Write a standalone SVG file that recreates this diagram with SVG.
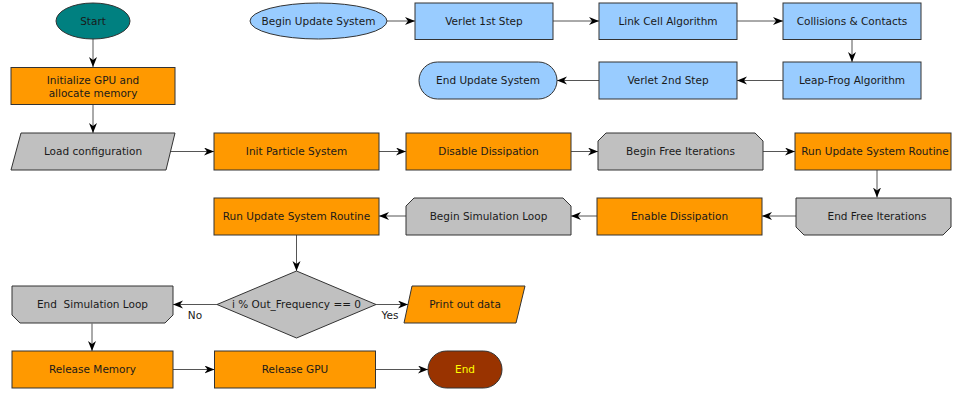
<svg xmlns="http://www.w3.org/2000/svg" width="953" height="394" viewBox="0 0 953 394">
<style>
  text { font-family: "DejaVu Sans", "Liberation Sans", sans-serif; font-size: 10.5px; fill: #1a1a1a; text-anchor: middle; }
  .shape { stroke: #333; stroke-width: 1; }
  .orange { fill: #ff9900; }
  .gray { fill: #c0c0c0; }
  .blue { fill: #99ccff; }
  .teal { fill: #008080; }
  .brown { fill: #993300; }
  .conn path { fill: none; stroke: #555; stroke-width: 1; marker-end: url(#arrow); }
  .lbl { font-size: 10.5px; }
</style>
<defs>
  <marker id="arrow" markerUnits="userSpaceOnUse" markerWidth="11" markerHeight="9" refX="10" refY="4" orient="auto">
    <path d="M0,0 L10,4 L0,8 L3,4 z" fill="#000"/>
  </marker>
</defs>
<rect width="953" height="394" fill="#fff"/>

<g class="conn" id="connectors">
  <path d="M93,39 V67"/>
  <path d="M93,104.5 V133"/>
  <path d="M171,151.5 H214"/>
  <path d="M379,151.5 H406"/>
  <path d="M571,151.5 H598"/>
  <path d="M763,151.5 H795"/>
  <path d="M877,170 V197.5"/>
  <path d="M796,216 H762"/>
  <path d="M597,216 H571"/>
  <path d="M406,216 H379"/>
  <path d="M296.5,235 V271"/>
  <path d="M217,304.5 H173"/>
  <path d="M376,304.5 H408"/>
  <path d="M92,323.5 V351"/>
  <path d="M173,369.5 H214.5"/>
  <path d="M376,369.5 H428"/>
  <path d="M387,21 H415"/>
  <path d="M553,21 H599"/>
  <path d="M737,21 H783"/>
  <path d="M852,39.5 V62"/>
  <path d="M783,80.5 H737"/>
  <path d="M599,80.5 H557"/>
  <text x="195" y="319">No</text>
  <text x="390" y="319">Yes</text>
</g>

<g id="start">
  <ellipse class="shape teal" cx="93" cy="21" rx="37" ry="18"/>
  <text x="93" y="24.8">Start</text>
</g>
<g id="init-gpu">
  <rect class="shape orange" x="11" y="67.5" width="164" height="37"/>
  <text x="93" y="83.8">Initialize GPU and</text>
  <text x="93" y="96.5">allocate memory</text>
</g>
<g id="load-config">
  <polygon class="shape gray" points="21,133 175,133 166,170 11,170"/>
  <text x="93" y="155.3">Load configuration</text>
</g>
<g id="init-particle">
  <rect class="shape orange" x="214" y="133" width="165" height="37"/>
  <text x="296.5" y="155.3">Init Particle System</text>
</g>
<g id="disable-dissipation">
  <rect class="shape orange" x="406" y="133" width="165" height="37"/>
  <text x="488.5" y="155.3">Disable Dissipation</text>
</g>
<g id="begin-free">
  <polygon class="shape gray" points="598,141 606,133 755,133 763,141 763,170 598,170"/>
  <text x="680.5" y="155.3">Begin Free Iterations</text>
</g>
<g id="run-update-1">
  <rect class="shape orange" x="795" y="133" width="156" height="37"/>
  <text x="875" y="155.3">Run Update System Routine</text>
</g>
<g id="end-free">
  <polygon class="shape gray" points="796,198 951,198 951,227 943,235 804,235 796,227"/>
  <text x="877" y="219.8">End Free Iterations</text>
</g>
<g id="enable-dissipation">
  <rect class="shape orange" x="597" y="198" width="165" height="37"/>
  <text x="679.5" y="219.8">Enable Dissipation</text>
</g>
<g id="begin-sim">
  <polygon class="shape gray" points="406,206 414,198 563,198 571,206 571,235 406,235"/>
  <text x="488.5" y="219.8">Begin Simulation Loop</text>
</g>
<g id="run-update-2">
  <rect class="shape orange" x="214" y="198" width="165" height="37"/>
  <text x="296.5" y="219.8">Run Update System Routine</text>
</g>
<g id="decision">
  <polygon class="shape gray" points="296.5,271 376,304.5 296.5,338 217,304.5"/>
  <text x="296.5" y="308.3">i % Out_Frequency == 0</text>
</g>
<g id="end-sim">
  <polygon class="shape gray" points="12,286 173,286 173,315 165,323 20,323 12,315"/>
  <text x="92.5" y="308.3" xml:space="preserve">End  Simulation Loop</text>
</g>
<g id="print-out">
  <polygon class="shape orange" points="412,286 525,286 516,323 404,323"/>
  <text x="465" y="308.3">Print out data</text>
</g>
<g id="release-memory">
  <rect class="shape orange" x="12" y="351" width="161" height="37"/>
  <text x="92.5" y="373.3">Release Memory</text>
</g>
<g id="release-gpu">
  <rect class="shape orange" x="214.5" y="351" width="161" height="37"/>
  <text x="295" y="373.3">Release GPU</text>
</g>
<g id="end">
  <rect class="shape brown" x="428" y="351" width="74" height="37" rx="18.5" ry="18.5"/>
  <text x="465" y="373.3" style="fill:#ffff00">End</text>
</g>

<g id="begin-update">
  <ellipse class="shape blue" cx="318.5" cy="21" rx="68.5" ry="18"/>
  <text x="318.5" y="24.8">Begin Update System</text>
</g>
<g id="verlet-1">
  <rect class="shape blue" x="415" y="3" width="138" height="36.5"/>
  <text x="484" y="24.8">Verlet 1st Step</text>
</g>
<g id="link-cell">
  <rect class="shape blue" x="599" y="3" width="138" height="36.5"/>
  <text x="668" y="24.8">Link Cell Algorithm</text>
</g>
<g id="collisions">
  <rect class="shape blue" x="783" y="3" width="138" height="36.5"/>
  <text x="852" y="24.8">Collisions &amp; Contacts</text>
</g>
<g id="leap-frog">
  <rect class="shape blue" x="783" y="62" width="138" height="37"/>
  <text x="852" y="84.3">Leap-Frog Algorithm</text>
</g>
<g id="verlet-2">
  <rect class="shape blue" x="599" y="62" width="138" height="37"/>
  <text x="668" y="84.3">Verlet 2nd Step</text>
</g>
<g id="end-update">
  <rect class="shape blue" x="419" y="62" width="138" height="37" rx="18.5" ry="18.5"/>
  <text x="488" y="84.3">End Update System</text>
</g>
</svg>
